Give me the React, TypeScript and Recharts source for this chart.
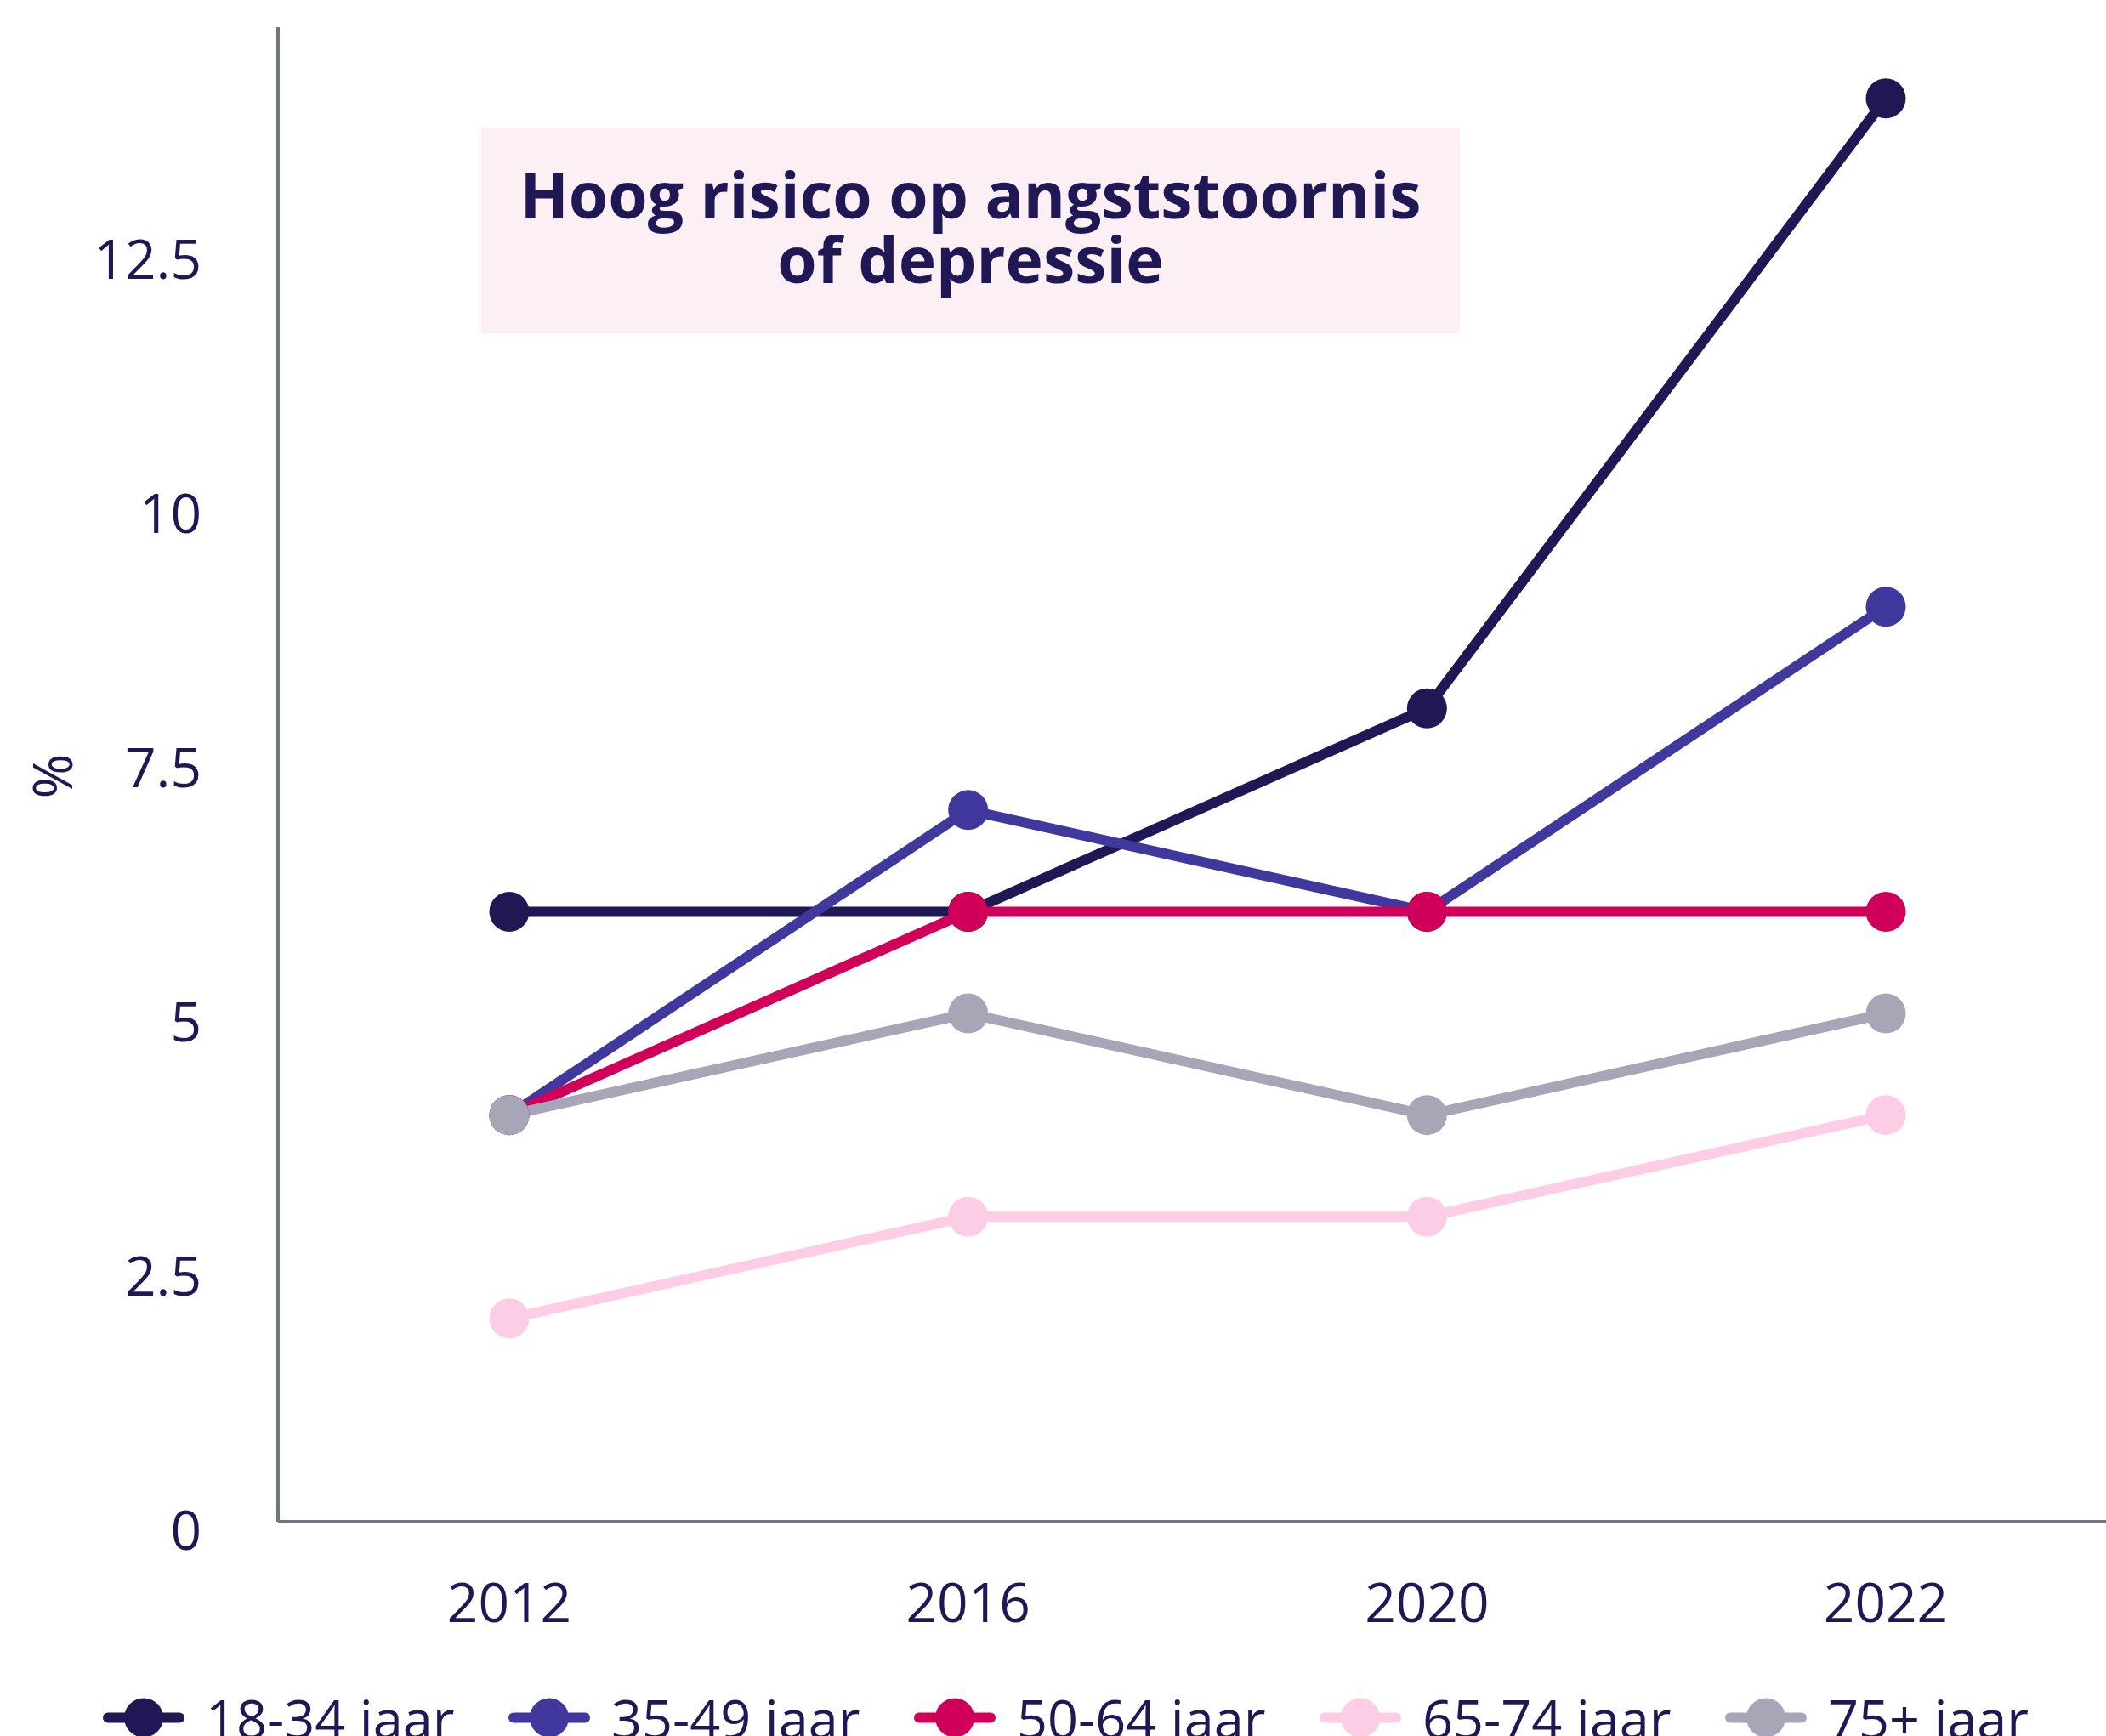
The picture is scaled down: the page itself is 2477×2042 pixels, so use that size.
import React from 'react';
import { LineChart, Line, XAxis, YAxis, Legend } from 'recharts';

const years = ['2012', '2016', '2020', '2022'];
const s18_34 = [6, 6, 8, 14];
const s35_49 = [4, 7, 6, 9];
const s50_64 = [4, 6, 6, 6];
const s65_74 = [2, 3, 3, 4];
const s75plus = [4, 5, 4, 5];
const seriesNames = ['18-34 jaar', '35-49 jaar', '50-64 jaar', '65-74 jaar', '75+ jaar'];
const seriesKeys = ['a', 'b', 'c', 'd', 'e'];
const seriesColors = ['#1F1855', '#41389E', '#D0005A', '#FDCDE5', '#A8A5B7'];
const yTicks = [0, 2.5, 5, 7.5, 10, 12.5];
const titleLines = ['Hoog risico op angststoornis', 'of depressie'];
const yLabel = '%';

const allSeries = [s18_34, s35_49, s50_64, s65_74, s75plus];
const data = years.map((y, i) => {
  const row: any = { year: y };
  seriesKeys.forEach((k, j) => {
    row[k] = allSeries[j][i];
  });
  return row;
});

const TEXT = '#1F1855';
const AXIS = '#6E7780';
const FONT = '"Open Sans", "Noto Sans", sans-serif';

const YTick = (props: any) => {
  const { x, y, payload } = props;
  return (
    <text x={x} y={y} dy={8} textAnchor="end" dominantBaseline="central" fill={TEXT} fontSize={64} fontFamily={FONT}>
      {String(payload.value)}
    </text>
  );
};

const XTick = (props: any) => {
  const { x, y, payload } = props;
  return (
    <text x={x} y={y} textAnchor="middle" dominantBaseline="central" fill={TEXT} fontSize={64} fontFamily={FONT}>
      {payload.value}
    </text>
  );
};

const LegendContent = (props: any) => {
  const { payload } = props;
  return (
    <div style={{ position: 'relative', width: 2477, height: 120 }}>
      {(payload || []).map((p: any, i: number) => (
        <div
          key={p.value}
          style={{
            position: 'absolute',
            left: 121 + i * 477,
            top: 60,
            transform: 'translateY(-50%)',
            display: 'flex',
            alignItems: 'center',
            gap: 25,
          }}
        >
          <svg width={96} height={50} style={{ display: 'block' }}>
            <line x1={6} y1={25} x2={90} y2={25} stroke={p.color} strokeWidth={12} strokeLinecap="round" />
            <circle cx={48} cy={25} r={23} fill={p.color} />
          </svg>
          <span style={{ fontFamily: FONT, fontSize: 63, color: TEXT, lineHeight: 1, whiteSpace: 'nowrap' }}>
            {p.value}
          </span>
        </div>
      ))}
    </div>
  );
};

export default function App() {
  return (
    <div style={{ position: 'absolute', left: 0, top: 0, width: 2477, height: 2042, overflow: 'hidden', background: '#fff' }}>
      <LineChart width={2477} height={2080} data={data} margin={{ top: 32, right: 0, left: 0, bottom: 0 }}>
        <YAxis
          width={327}
          domain={[0, 14.7]}
          ticks={yTicks}
          interval={0}
          axisLine={{ stroke: AXIS, strokeWidth: 4 }}
          tickLine={false}
          tickSize={0}
          tickMargin={90}
          tick={<YTick />}
          label={{
            content: () => (
              <text x={60} y={913} transform="rotate(-90 60 913)" textAnchor="middle" dominantBaseline="central" fill={TEXT} fontSize={64} fontFamily={FONT}>
                {yLabel}
              </text>
            ),
          }}
        />
        <XAxis
          dataKey="year"
          height={170}
          padding={{ left: 272, right: 259 }}
          axisLine={{ stroke: AXIS, strokeWidth: 4 }}
          tickLine={false}
          tickSize={0}
          tickMargin={93}
          tick={<XTick />}
          interval={0}
        />
        <Legend verticalAlign="bottom" content={<LegendContent />} wrapperStyle={{ left: 0, width: 2477 }} />
        {seriesKeys.map((k, j) => (
          <Line
            key={k}
            dataKey={k}
            name={seriesNames[j]}
            stroke={seriesColors[j]}
            strokeWidth={12}
            dot={{ r: 23.5, fill: seriesColors[j], stroke: 'none', strokeWidth: 0 }}
            activeDot={false}
            isAnimationActive={false}
          />
        ))}
      </LineChart>
      <div
        style={{
          position: 'absolute',
          left: 566,
          top: 150,
          width: 1151,
          height: 242,
          boxSizing: 'border-box',
          paddingBottom: 10,
          background: '#FDF0F4',
          display: 'flex',
          flexDirection: 'column',
          alignItems: 'center',
          justifyContent: 'center',
          fontFamily: FONT,
          fontWeight: 700,
          fontSize: 75,
          lineHeight: '76px',
          color: TEXT,
          textAlign: 'center',
        }}
      >
        {titleLines.map((l) => (
          <div key={l} style={{ whiteSpace: 'nowrap' }}>{l}</div>
        ))}
      </div>
    </div>
  );
}
